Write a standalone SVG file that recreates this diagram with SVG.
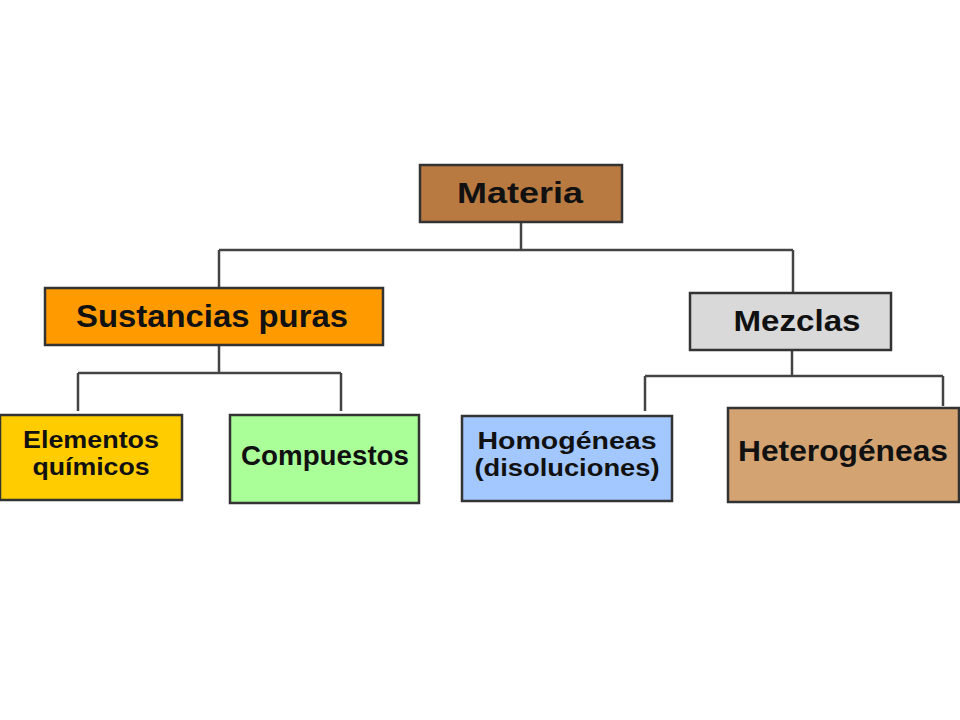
<svg xmlns="http://www.w3.org/2000/svg" width="960" height="720" viewBox="0 0 960 720">
<style>
.box{stroke:#333;stroke-width:2.5}
.lbl{font-family:"Liberation Sans",Arial,sans-serif;font-weight:bold;fill:#111;text-anchor:middle}
.con{fill:none;stroke:#444;stroke-width:2.5}
</style>
<rect width="960" height="720" fill="#fff"/>
<g id="connectors">
<path class="con" d="M521 222V250M219 250H793M219 250V288M793 250V293"/>
<path class="con" d="M219 345V373M78 373H341M78 373V411M341 373V411"/>
<path class="con" d="M792 350V376M645 376H943M645 376V411M943 376V406"/>
</g>
<g id="materia">
<rect class="box" x="420" y="165" width="202" height="57" fill="#b97a42"/>
<text class="lbl" x="520" y="203" font-size="30" textLength="126" lengthAdjust="spacingAndGlyphs">Materia</text>
</g>
<g id="sustancias">
<rect class="box" x="45" y="288" width="338" height="57" fill="#ff9a00"/>
<text class="lbl" x="212" y="327" font-size="32" textLength="272" lengthAdjust="spacingAndGlyphs">Sustancias puras</text>
</g>
<g id="mezclas">
<rect class="box" x="690" y="293" width="201" height="57" fill="#d9d9d9"/>
<text class="lbl" x="797" y="331" font-size="30" textLength="127" lengthAdjust="spacingAndGlyphs">Mezclas</text>
</g>
<g id="elementos">
<rect class="box" x="0" y="415" width="182" height="85" fill="#ffcc00"/>
<text class="lbl" x="91" y="448" font-size="23" textLength="136" lengthAdjust="spacingAndGlyphs">Elementos</text>
<text class="lbl" x="91" y="475" font-size="23" textLength="117" lengthAdjust="spacingAndGlyphs">químicos</text>
</g>
<g id="compuestos">
<rect class="box" x="230" y="415" width="189" height="88" fill="#aaff99"/>
<text class="lbl" x="325" y="465" font-size="27" textLength="168" lengthAdjust="spacingAndGlyphs">Compuestos</text>
</g>
<g id="homogeneas">
<rect class="box" x="462" y="416" width="210" height="85" fill="#a3c7ff"/>
<text class="lbl" x="567" y="449" font-size="23" textLength="179" lengthAdjust="spacingAndGlyphs">Homogéneas</text>
<text class="lbl" x="567" y="476" font-size="23" textLength="185" lengthAdjust="spacingAndGlyphs">(disoluciones)</text>
</g>
<g id="heterogeneas">
<rect class="box" x="728" y="408" width="231" height="94" fill="#d4a372"/>
<text class="lbl" x="843" y="461" font-size="30" textLength="210" lengthAdjust="spacingAndGlyphs">Heterogéneas</text>
</g>
</svg>
